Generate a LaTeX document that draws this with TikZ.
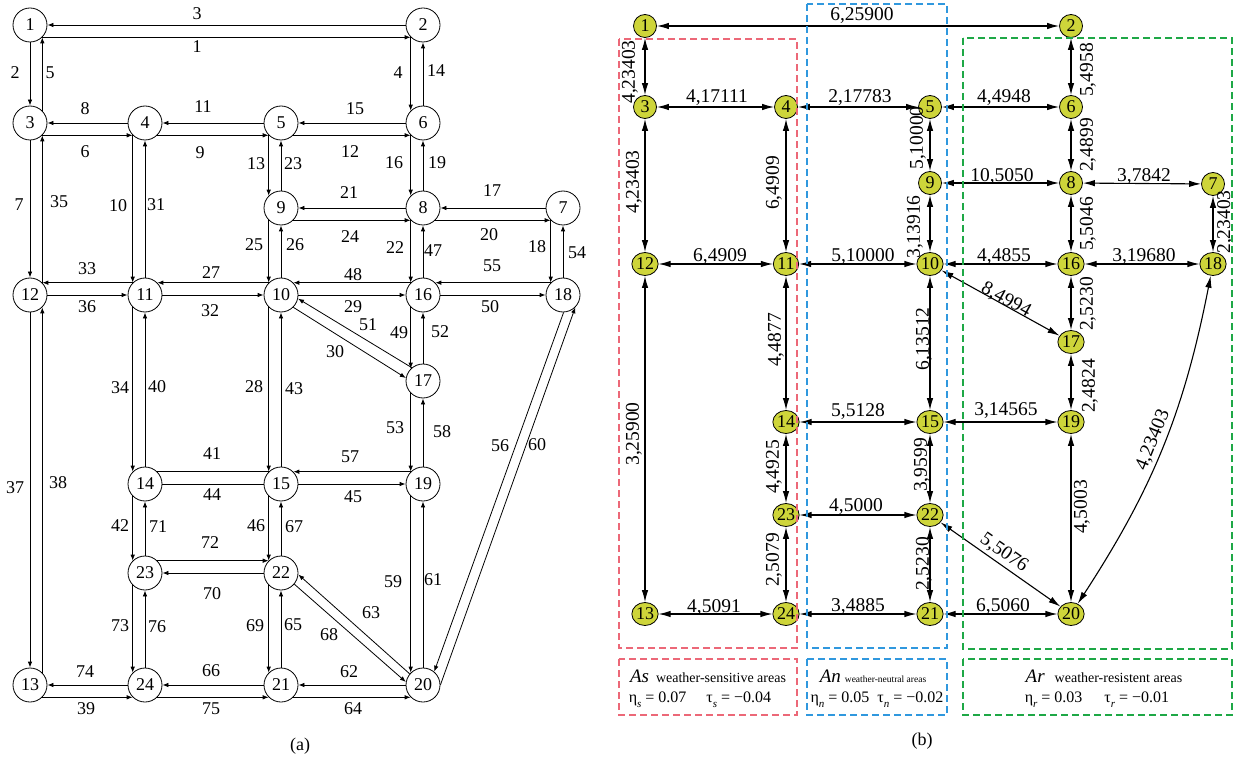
\documentclass[tikz,border=0pt]{standalone}
\usepackage{fontspec}
\setmainfont{Liberation Serif}
\usetikzlibrary{arrows.meta,shapes.geometric}
\definecolor{ygreen}{RGB}{206,213,58}
\definecolor{areared}{RGB}{236,104,120}
\definecolor{areablue}{RGB}{48,152,222}
\definecolor{areagreen}{RGB}{30,168,70}
\newcommand{\lsub}[1]{\raisebox{-5pt}{\fontsize{11}{11}\selectfont\itshape #1}}
\tikzset{
  ln/.style={circle, draw, line width=0.8pt, minimum size=34pt, inner sep=0pt, font=\fontsize{18}{18}\selectfont},
  la/.style={line width=0.8pt, -{Latex[length=6pt,width=4.5pt]}},
  lp/.style={line width=0.8pt},
  lt/.style={font=\fontsize{18}{18}\selectfont, inner sep=0pt},
  rn/.style={ellipse, draw, fill=ygreen, line width=0.8pt, minimum width=23pt, minimum height=23pt, inner sep=0.3pt, font=\fontsize{18}{18}\selectfont},
  ra/.style={line width=1.1pt, {Latex[length=12pt,width=6.5pt]}-{Latex[length=12pt,width=6.5pt]}},
  rt/.style={font=\fontsize{19.5}{19.5}\selectfont, inner sep=0pt},
  areabox/.style={dash pattern=on 7pt off 4pt, line width=1.3pt},
}
\begin{document}
\begin{tikzpicture}[x=1pt,y=-1pt]
\useasboundingbox (0,0) rectangle (1234,759);
% ---------------- left panel nodes
\node[ln] (L1) at (30,25) {1};
\node[ln] (L2) at (423,25) {2};
\node[ln] (L3) at (30,123) {3};
\node[ln] (L4) at (145,123) {4};
\node[ln] (L5) at (281,123) {5};
\node[ln] (L6) at (423,123) {6};
\node[ln] (L9) at (281,208) {9};
\node[ln] (L8) at (423,208) {8};
\node[ln] (L7) at (563,208) {7};
\node[ln] (L12) at (30,295) {12};
\node[ln] (L11) at (145,295) {11};
\node[ln] (L10) at (281,295) {10};
\node[ln] (L16) at (423,295) {16};
\node[ln] (L18) at (563,295) {18};
\node[ln] (L17) at (423,381) {17};
\node[ln] (L14) at (145,484) {14};
\node[ln] (L15) at (281,484) {15};
\node[ln] (L19) at (423,484) {19};
\node[ln] (L23) at (145,573) {23};
\node[ln] (L22) at (281,573) {22};
\node[ln] (L13) at (30,685) {13};
\node[ln] (L24) at (145,685) {24};
\node[ln] (L21) at (281,685) {21};
\node[ln] (L20) at (423,685) {20};
% horizontal pairs
\draw[la] (L2) -- (L1);   \draw[la] (L1.-45) -- (L2.-135);
\draw[la] (L4) -- (L3);   \draw[la] (L3.-45) -- (L4.-135);
\draw[la] (L5) -- (L4);   \draw[la] (L4.-45) -- (L5.-135);
\draw[la] (L6) -- (L5);   \draw[la] (L5.-45) -- (L6.-135);
\draw[la] (L8) -- (L9);   \draw[la] (L9.-45) -- (L8.-135);
\draw[la] (L7) -- (L8);   \draw[la] (L8.-45) -- (L7.-135);
\draw[la] (L11.135) -- (L12.45); \draw[la] (L12) -- (L11);
\draw[la] (L10.135) -- (L11.45); \draw[la] (L11) -- (L10);
\draw[la] (L16.135) -- (L10.45); \draw[la] (L10) -- (L16);
\draw[la] (L18.135) -- (L16.45); \draw[la] (L16) -- (L18);
\draw[lp] (L14.45) -- (L15.135); \draw[lp] (L14) -- (L15);
\draw[la] (L19.135) -- (L15.45); \draw[la] (L15) -- (L19);
\draw[la] (L23.45) -- (L22.135); \draw[la] (L22) -- (L23);
\draw[la] (L24) -- (L13); \draw[la] (L13.-45) -- (L24.-135);
\draw[la] (L21) -- (L24); \draw[la] (L24.-45) -- (L21.-135);
\draw[la] (L20) -- (L21); \draw[la] (L21.-45) -- (L20.-135);
% vertical pairs
\draw[la] (L1) -- (L3);   \draw[la] (L3.45) -- (L1.-45);
\draw[la] (L2.-135) -- (L6.135); \draw[la] (L6) -- (L2);
\draw[la] (L5.-135) -- (L9.135); \draw[la] (L9) -- (L5);
\draw[la] (L6.-135) -- (L8.135); \draw[la] (L8) -- (L6);
\draw[la] (L3) -- (L12);  \draw[la] (L12.45) -- (L3.-45);
\draw[la] (L4.-135) -- (L11.135); \draw[la] (L11) -- (L4);
\draw[la] (L9.-135) -- (L10.135); \draw[la] (L10) -- (L9);
\draw[la] (L8.-135) -- (L16.135); \draw[la] (L16) -- (L8);
\draw[la] (L7.-135) -- (L18.135); \draw[la] (L18) -- (L7);
\draw[la] (L16.-135) -- (L17.135); \draw[la] (L17) -- (L16);
\draw[la] (L12) -- (L13); \draw[la] (L13.45) -- (L12.-45);
\draw[la] (L11.-135) -- (L14.135); \draw[la] (L14) -- (L11);
\draw[la] (L10.-135) -- (L15.135); \draw[la] (L15) -- (L10);
\draw[la] (L17.-135) -- (L19.135); \draw[la] (L19) -- (L17);
\draw[la] (L14.-135) -- (L23.135); \draw[la] (L23) -- (L14);
\draw[la] (L15.-135) -- (L22.135); \draw[la] (L22) -- (L15);
\draw[la] (L19.-135) -- (L20.135); \draw[la] (L20) -- (L19);
\draw[la] (L23.-135) -- (L24.135); \draw[la] (L24) -- (L23);
\draw[la] (L22.-135) -- (L21.135); \draw[la] (L21) -- (L22);
% diagonals
\draw[la] (L17.130) -- (L10.-12);
\draw[la] (L10.-45) -- (L17.170);
\draw[la] (L20.140) -- (L22.-5);
\draw[la] (L22.-40) -- (L20.170);
\draw[la] (L18.-88) -- (L20.50);
\draw[la] (L20.0) -- (L18.-45);
% left labels
\node[lt] (a3) at (197,14) {3};
\node[lt] (a1) at (197,47) {1};
\node[lt] (a2) at (15,73) {2};
\node[lt] (a5) at (50,73) {5};
\node[lt] (a4) at (398,73) {4};
\node[lt] (a14) at (436,71) {14};
\node[lt] (a8) at (85,109) {8};
\node[lt] (a6) at (85,152) {6};
\node[lt] (a11) at (203,107) {11};
\node[lt] (a9) at (200,153) {9};
\node[lt] (a15) at (355,109) {15};
\node[lt] (a12) at (350,152) {12};
\node[lt] (a13) at (256,164) {13};
\node[lt] (a23) at (293,164) {23};
\node[lt] (a16) at (394,163) {16};
\node[lt] (a19) at (437,163) {19};
\node[lt] (a7) at (19,205) {7};
\node[lt] (a35) at (59,202) {35};
\node[lt] (a10) at (118,206) {10};
\node[lt] (a31) at (156,205) {31};
\node[lt] (a21) at (349,193) {21};
\node[lt] (a24) at (350,237) {24};
\node[lt] (a17) at (492,191) {17};
\node[lt] (a20) at (489,235) {20};
\node[lt] (a25) at (254,245) {25};
\node[lt] (a26) at (295,245) {26};
\node[lt] (a22) at (395,248) {22};
\node[lt] (a47) at (433,251) {47};
\node[lt] (a18) at (537,247) {18};
\node[lt] (a54) at (577,253) {54};
\node[lt] (a33) at (87,269) {33};
\node[lt] (a36) at (87,307) {36};
\node[lt] (a27) at (211,273) {27};
\node[lt] (a32) at (210,311) {32};
\node[lt] (a48) at (353,275) {48};
\node[lt] (a29) at (353,307) {29};
\node[lt] (a55) at (492,266) {55};
\node[lt] (a50) at (490,307) {50};
\node[lt] (a51) at (368,325) {51};
\node[lt] (a30) at (335,352) {30};
\node[lt] (a49) at (399,333) {49};
\node[lt] (a52) at (440,332) {52};
\node[lt] (a34) at (120,388) {34};
\node[lt] (a40) at (157,387) {40};
\node[lt] (a28) at (254,387) {28};
\node[lt] (a43) at (294,389) {43};
\node[lt] (a53) at (395,428) {53};
\node[lt] (a58) at (442,432) {58};
\node[lt] (a56) at (500,446) {56};
\node[lt] (a60) at (537,445) {60};
\node[lt] (a37) at (15,488) {37};
\node[lt] (a38) at (58,483) {38};
\node[lt] (a41) at (212,454) {41};
\node[lt] (a44) at (212,495) {44};
\node[lt] (a57) at (350,457) {57};
\node[lt] (a45) at (353,497) {45};
\node[lt] (a42) at (120,526) {42};
\node[lt] (a71) at (158,527) {71};
\node[lt] (a46) at (256,526) {46};
\node[lt] (a67) at (294,527) {67};
\node[lt] (a72) at (210,543) {72};
\node[lt] (a59) at (393,582) {59};
\node[lt] (a61) at (433,580) {61};
\node[lt] (a70) at (212,594) {70};
\node[lt] (a73) at (120,626) {73};
\node[lt] (a76) at (157,627) {76};
\node[lt] (a69) at (255,626) {69};
\node[lt] (a65) at (293,625) {65};
\node[lt] (a63) at (371,613) {63};
\node[lt] (a68) at (329,635) {68};
\node[lt] (a74) at (85,672) {74};
\node[lt] (a39) at (86,709) {39};
\node[lt] (a66) at (211,671) {66};
\node[lt] (a75) at (211,709) {75};
\node[lt] (a62) at (349,672) {62};
\node[lt] (a64) at (353,709) {64};
\node[lt] (capa) at (300,746) {(a)};
% ---------------- right panel
\node[rn] (R1) at (645,26) {1};
\node[rn] (R2) at (1071,26) {2};
\node[rn] (R3) at (645,107) {3};
\node[rn] (R4) at (786,107) {4};
\node[rn] (R5) at (930,107) {5};
\node[rn] (R6) at (1071,107) {6};
\node[rn] (R9) at (930,183) {9};
\node[rn] (R8) at (1071,183) {8};
\node[rn] (R7) at (1213,184) {7};
\node[rn] (R12) at (645,264) {12};
\node[rn] (R11) at (786,264) {11};
\node[rn] (R10) at (930,264) {10};
\node[rn] (R16) at (1071,264) {16};
\node[rn] (R18) at (1213,264) {18};
\node[rn] (R17) at (1071,342) {17};
\node[rn] (R14) at (786,422) {14};
\node[rn] (R15) at (930,422) {15};
\node[rn] (R19) at (1071,422) {19};
\node[rn] (R23) at (786,515) {23};
\node[rn] (R22) at (930,515) {22};
\node[rn] (R13) at (645,614) {13};
\node[rn] (R24) at (786,614) {24};
\node[rn] (R21) at (930,614) {21};
\node[rn] (R20) at (1071,614) {20};
\draw[ra] (R1) -- (R2);
\draw[ra] (R1) -- (R3);
\draw[ra] (R2) -- (R6);
\draw[ra] (R3) -- (R4);
\draw[ra] (R4) -- (R5);
\draw[ra] (R5) -- (R6);
\draw[ra] (R5) -- (R9);
\draw[ra] (R6) -- (R8);
\draw[ra] (R9) -- (R8);
\draw[ra] (R8) -- (R7);
\draw[ra] (R3) -- (R12);
\draw[ra] (R4) -- (R11);
\draw[ra] (R9) -- (R10);
\draw[ra] (R8) -- (R16);
\draw[ra] (R7) -- (R18);
\draw[ra] (R12) -- (R11);
\draw[ra] (R11) -- (R10);
\draw[ra] (R10) -- (R16);
\draw[ra] (R16) -- (R18);
\draw[ra] (R10) -- (R17);
\draw[ra] (R16) -- (R17);
\draw[ra] (R11) -- (R14);
\draw[ra] (R10) -- (R15);
\draw[ra] (R12) -- (R13);
\draw[ra] (R17) -- (R19);
\draw[ra] (R14) -- (R15);
\draw[ra] (R15) -- (R19);
\draw[ra] (R14) -- (R23);
\draw[ra] (R15) -- (R22);
\draw[ra] (R19) -- (R20);
\draw[ra] (R18) to[bend left=11] (R20);
\draw[ra] (R23) -- (R22);
\draw[ra] (R22) -- (R20);
\draw[ra] (R23) -- (R24);
\draw[ra] (R22) -- (R21);
\draw[ra] (R13) -- (R24);
\draw[ra] (R24) -- (R21);
\draw[ra] (R21) -- (R20);
% right labels
\node[rt] (rl12) at (862,16) {6,25900};
\node[rt, rotate=90] (rl13) at (630,72) {4,23403};
\node[rt] (rl34) at (717,98) {4,17111};
\node[rt] (rl45) at (860,98) {2,17783};
\node[rt] (rl56) at (1004,98) {4,4948};
\node[rt, rotate=90] (rl26) at (1088,70) {5,4958};
\node[rt, rotate=90] (rl59) at (918,138) {5,10000};
\node[rt, rotate=90] (rl68) at (1088,145) {2,4899};
\node[rt] (rl98) at (1002,177) {10,5050};
\node[rt] (rl87) at (1144,177) {3,7842};
\node[rt, rotate=90] (rl312) at (634,182) {4,23403};
\node[rt, rotate=90] (rl411) at (774,183) {6,4909};
\node[rt, rotate=90] (rl910) at (915,227) {3,13916};
\node[rt, rotate=90] (rl816) at (1088,224) {5,5046};
\node[rt, rotate=90] (rl718) at (1225,222) {2,23403};
\node[rt] (rl1211) at (720,257) {6,4909};
\node[rt] (rl1110) at (863,257) {5,10000};
\node[rt] (rl1016) at (1004,257) {4,4855};
\node[rt] (rl1618) at (1144,257) {3,19680};
\node[rt, rotate=-29] (rl1017) at (1006,300) {8,4994};
\node[rt, rotate=90] (rl1617) at (1088,304) {2,5230};
\node[rt, rotate=90] (rl1114) at (776,340) {4,4877};
\node[rt, rotate=90] (rl1015) at (924,339) {6,13512};
\node[rt, rotate=90] (rl1213) at (634,434) {3,25900};
\node[rt, rotate=90] (rl1719) at (1090,386) {2,4824};
\node[rt] (rl1415) at (858,412) {5,5128};
\node[rt] (rl1519) at (1006,411) {3,14565};
\node[rt, rotate=90] (rl1423) at (774,467) {4,4925};
\node[rt, rotate=90] (rl1522) at (922,465) {3,9599};
\node[rt, rotate=90] (rl1920) at (1082,507) {4,5003};
\node[rt, rotate=68] (rl1820) at (1153,440) {4,23403};
\node[rt] (rl2322) at (856,507) {4,5000};
\node[rt, rotate=-35] (rl2220) at (1004,553) {5,5076};
\node[rt, rotate=90] (rl2324) at (774,560) {2,5079};
\node[rt, rotate=90] (rl2221) at (924,564) {2,5230};
\node[rt] (rl1324) at (714,608) {4,5091};
\node[rt] (rl2421) at (858,607) {3,4885};
\node[rt] (rl2120) at (1003,607) {6,5060};
% area boxes
\draw[areabox, draw=areared] (619,39) rectangle (797,648);
\draw[areabox, draw=areablue] (807,4) rectangle (947,648);
\draw[areabox, draw=areagreen] (963,38) rectangle (1232,649);
\draw[areabox, draw=areared] (619,659) rectangle (797,715);
\draw[areabox, draw=areablue] (807,659) rectangle (947,715);
\draw[areabox, draw=areagreen] (963,659) rectangle (1232,715);
% legend
\node[anchor=base, inner sep=0pt] (lgs1) at (708,682) {{\fontsize{19}{19}\selectfont\itshape As}\hspace{7pt}{\fontsize{14}{14}\selectfont weather-sensitive areas}};
\node[anchor=base, inner sep=0pt] (lgs2) at (700,702) {\fontsize{16}{16}\selectfont η\lsub{s} = 0.07\hspace{20pt}τ\lsub{s} = −0.04};
\node[anchor=base, inner sep=0pt] (lgn1) at (873,682) {{\fontsize{19}{19}\selectfont\itshape An}\hspace{4pt}{\fontsize{9.5}{9.5}\selectfont weather-neutral areas}};
\node[anchor=base, inner sep=0pt] (lgn2) at (877,702) {\fontsize{16}{16}\selectfont η\lsub{n} = 0.05\hspace{8pt}τ\lsub{n} = −0.02};
\node[anchor=base, inner sep=0pt] (lgr1) at (1104,682) {{\fontsize{19}{19}\selectfont\itshape Ar}\hspace{10pt}{\fontsize{14}{14}\selectfont weather-resistent areas}};
\node[anchor=base, inner sep=0pt] (lgr2) at (1097,702) {\fontsize{16}{16}\selectfont η\lsub{r} = 0.03\hspace{22pt}τ\lsub{r} = −0.01};
\node[lt] (capb) at (922,741) {(b)};
\end{tikzpicture}
\end{document}
